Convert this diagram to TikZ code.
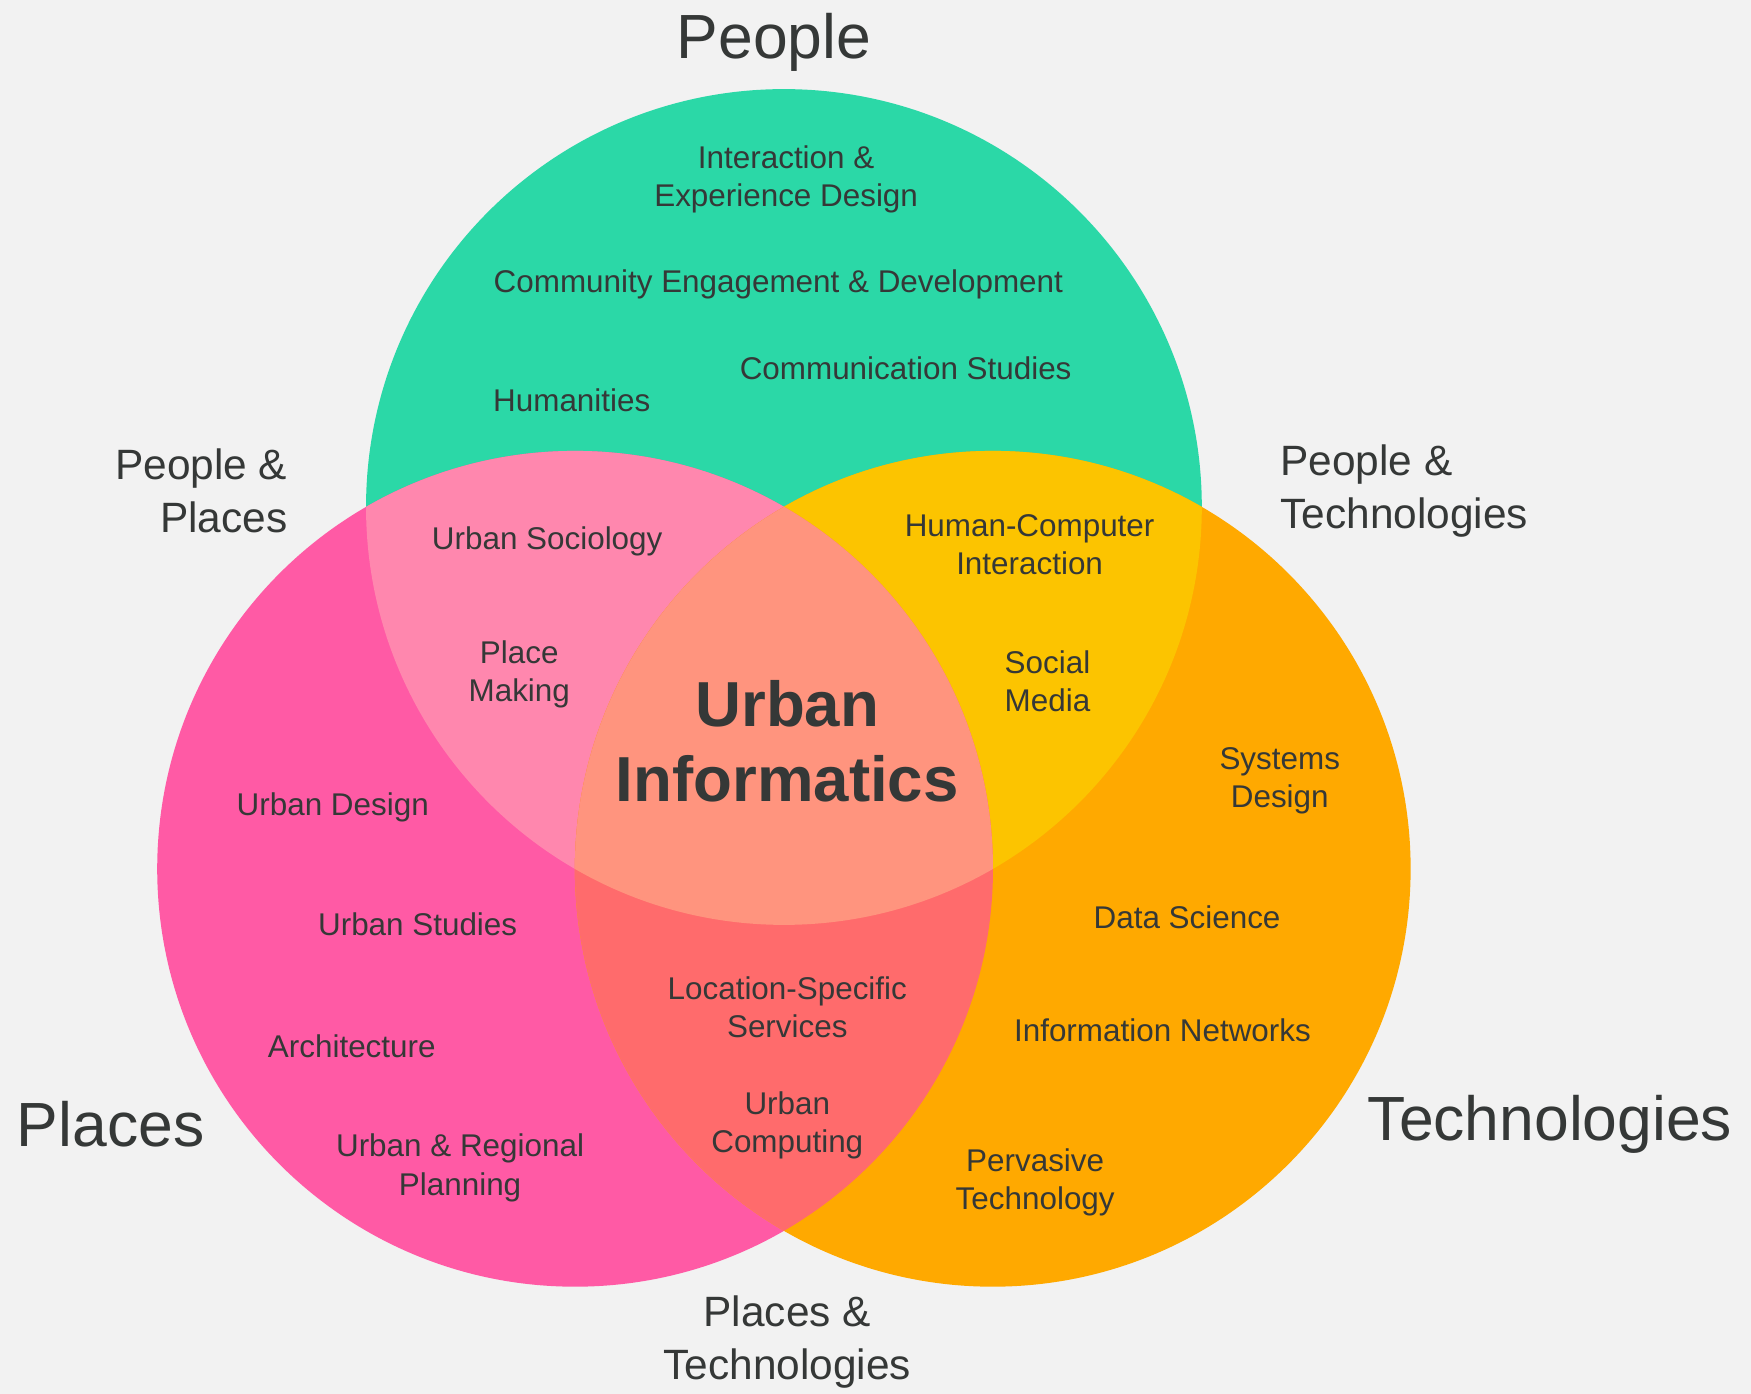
\documentclass[tikz,border=0pt]{standalone}
\usepackage{fontspec}
\setmainfont{Liberation Sans}
\usepackage{tikz}
\usepackage{xcolor}
\definecolor{paper}{RGB}{242,242,242}
\definecolor{ink}{RGB}{53,56,55}
\definecolor{people-green}{RGB}{43,216,167}
\definecolor{places-pink}{RGB}{255,90,165}
\definecolor{tech-orange}{RGB}{255,169,0}
\definecolor{pp-pink}{RGB}{255,135,174}
\definecolor{pt-yellow}{RGB}{252,196,0}
\definecolor{lt-red}{RGB}{255,107,108}
\definecolor{core-salmon}{RGB}{255,148,126}
\tikzstyle{topic}=[align=center, inner sep=0pt, yshift=-0.8pt, text=ink, font=\fontsize{8}{9.7}\selectfont]
\tikzstyle{pair}=[inner sep=0pt, yshift=-0.8pt, text=ink, font=\fontsize{10.8}{13.4}\selectfont]
\tikzstyle{setname}=[inner sep=0pt, yshift=-0.8pt, text=ink, font=\fontsize{15.9}{19}\selectfont]
\tikzstyle{core}=[align=center, inner sep=0pt, text=ink, font=\fontsize{16.2}{19}\selectfont\bfseries]
\newcommand{\vennPart}[3]{
	\begin{scope}
		\clip #1 circle (3.74cm);
		\fill[#3] #2 circle (3.74cm);
	\end{scope}
}
\begin{document}
\begin{tikzpicture}[x=0.01cm, y=-0.01cm]
	\useasboundingbox (0,0) rectangle (1568,1248);
	\fill[paper] (0,0) rectangle (1568,1248);
	\coordinate (cPeople) at (702,454);
	\coordinate (cPlaces) at (515,778);
	\coordinate (cTech) at (889,778);
	\fill[people-green] (cPeople) circle (3.74cm);
	\fill[places-pink] (cPlaces) circle (3.74cm);
	\fill[tech-orange] (cTech) circle (3.74cm);
	\vennPart{(cPeople)}{(cPlaces)}{pp-pink}
	\vennPart{(cPeople)}{(cTech)}{pt-yellow}
	\vennPart{(cPlaces)}{(cTech)}{lt-red}
	\begin{scope}
		\clip (cPeople) circle (3.74cm);
		\clip (cPlaces) circle (3.74cm);
		\fill[core-salmon] (cTech) circle (3.74cm);
	\end{scope}
	\node[setname] (people) at (693,35) {People};
	\node[setname] (places) at (99,1004) {Places};
	\node[setname] (tech) at (1388,1004) {Technologies};
	\node[pair, align=right, anchor=east] (peoplePlaces) at (258,437) {People \&\\Places};
	\node[pair, align=left, anchor=west] (peopleTech) at (1146,437) {People \&\\Technologies};
	\node[pair, align=center] (placesTech) at (705,1199) {Places \&\\Technologies};
	\node[core] (urbanInf) at (705,664) {Urban\\Informatics};
	\node[topic] (interaction) at (704,158) {Interaction \&\\Experience Design};
	\node[topic] (community) at (697,252) {Community Engagement \& Development};
	\node[topic] (communication) at (811,327) {Communication Studies};
	\node[topic] (humanities) at (512,356) {Humanities};
	\node[topic] (sociology) at (490,482) {Urban Sociology};
	\node[topic] (placeMaking) at (465,601) {Place\\Making};
	\node[topic] (hci) at (922,485) {Human-Computer\\Interaction};
	\node[topic] (socialMedia) at (938,607) {Social\\Media};
	\node[topic] (systems) at (1146,696) {Systems\\Design};
	\node[topic] (urbanDesign) at (298,720) {Urban Design};
	\node[topic] (urbanStudies) at (374,825) {Urban Studies};
	\node[topic] (dataScience) at (1063,819) {Data Science};
	\node[topic] (location) at (705,899) {Location-Specific\\Services};
	\node[topic] (architecture) at (315,934) {Architecture};
	\node[topic] (networks) at (1041,920) {Information Networks};
	\node[topic] (computing) at (705,1005) {Urban\\Computing};
	\node[topic] (planning) at (412,1043) {Urban \& Regional\\Planning};
	\node[topic] (pervasive) at (927,1056) {Pervasive\\Technology};
\end{tikzpicture}
\end{document}
